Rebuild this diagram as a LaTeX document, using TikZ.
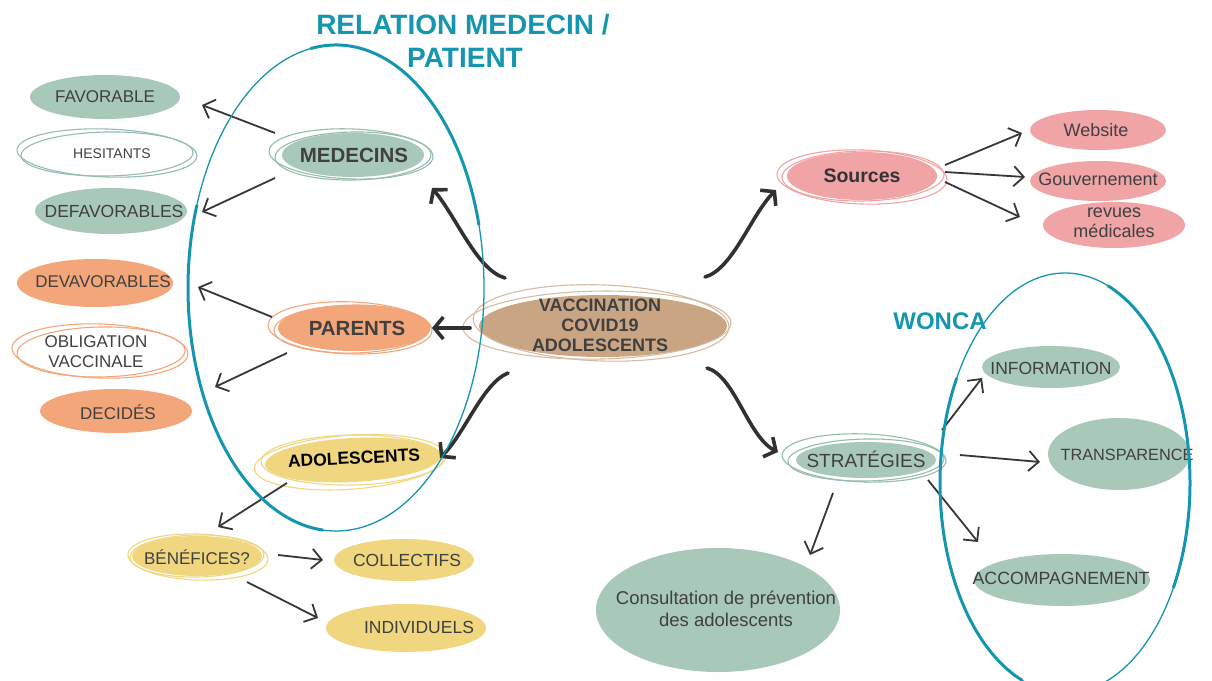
\documentclass[tikz,border=0pt]{standalone}
\usepackage{fontspec}
\setmainfont{Liberation Sans}
\usetikzlibrary{arrows.meta}
\definecolor{teal1}{RGB}{21,150,176}
\definecolor{sage}{RGB}{168,200,185}
\definecolor{sageD}{RGB}{150,188,170}
\definecolor{orng}{RGB}{243,166,122}
\definecolor{yel}{RGB}{241,214,128}
\definecolor{pink1}{RGB}{241,164,166}
\definecolor{tan1}{RGB}{201,165,131}
\definecolor{txt}{RGB}{64,64,64}
\definecolor{arrc}{RGB}{55,55,55}
\newcommand\bub[5]{\coordinate (#1) at #2;\fill[#5] (#1) ellipse [x radius=#3pt, y radius=#4pt];}
\newcommand\sk[7]{\draw[line width=1.1pt,#7,rotate around={#6:(#1)}] ([shift={(#2,#3)}]#1) ellipse [x radius=#4pt, y radius=#5pt];}
\tikzset{
  lbl/.style={text=txt, align=center, inner sep=0pt, font=\fontsize{17.5}{20}\selectfont},
  lblm/.style={lbl, font=\fontsize{18}{20}\selectfont},
  lblb/.style={lbl, font=\fontsize{20.5}{22}\bfseries\selectfont},
  ttl/.style={text=teal1, align=center, inner sep=0pt, font=\fontsize{28}{33}\bfseries\selectfont},
  thinar/.style={draw=arrc, line width=1.8pt, -{Straight Barb[length=10pt,width=20pt]}},
  thickar/.style={draw=arrc!90!black, line width=3.6pt, line cap=round, -{Straight Barb[length=9pt,width=22pt]}},
  ring/.style={draw=teal1}
}
\begin{document}
\begin{tikzpicture}[x=1pt,y=-1pt]
\fill[white] (0,0) rectangle (1212,680);
\useasboundingbox (0,0) rectangle (1212,680);

% ---------- bubbles (fills) ----------
\bub{vac}{(603,326)}{124}{31}{tan1}
\bub{med}{(353,155)}{71}{22}{sage}
\bub{fav}{(105,97)}{75}{22}{sage}
\bub{hes}{(107,153)}{88}{23}{white}
\bub{def}{(111,211)}{76}{23}{sage}
\bub{par}{(354,328)}{76}{23}{orng}
\bub{dev}{(95,283)}{78}{24}{orng}
\bub{obl}{(100,351)}{86}{26}{white}
\bub{dec}{(116,411)}{76}{22}{orng}
\coordinate (ado) at (353,460);
\fill[yel, rotate around={3:(ado)}] (ado) ellipse [x radius=88pt, y radius=22pt];
\bub{ben}{(197,556)}{65}{20}{yel}
\bub{col}{(404,560)}{70}{21}{yel}
\bub{ind}{(406,628)}{80}{24}{yel}
\bub{src}{(862,176)}{75}{24}{pink1}
\bub{web}{(1098,130)}{68}{20}{pink1}
\bub{gov}{(1098,181)}{68}{20}{pink1}
\bub{rev}{(1114,225)}{71}{23}{pink1}
\bub{str}{(866,460)}{70}{18}{sage}
\bub{inf}{(1051,367)}{69}{21}{sage}
\bub{tra}{(1119,454)}{71}{36}{sage}
\bub{acc}{(1062,580)}{88}{26}{sage}
\bub{con}{(718,610)}{122}{62}{sage}

% ---------- sketchy outlines ----------
\sk{vac}{-6}{-1}{134}{34}{1}{tan1!75!white}
\sk{vac}{-2}{-3}{128}{38}{-2}{tan1!75!white}
\sk{med}{-2}{-1}{82}{25}{-2}{sageD}
\sk{med}{0}{1}{78}{24}{1}{sageD}
\sk{par}{-4}{0}{82}{26}{-2}{orng}
\sk{par}{-2}{1}{78}{24}{1}{orng}
\sk{ado}{-3}{2}{96}{27}{4}{yel}
\sk{ado}{-1}{0}{91}{25}{1}{yel}
\sk{ben}{1}{1}{70}{23}{-2}{yel}
\sk{ben}{0}{0}{67}{21}{1}{yel}
\sk{src}{0}{1}{85}{27}{-2}{pink1}
\sk{src}{1}{0}{81}{25}{1}{pink1}
\sk{str}{-2}{-2}{82}{24}{-2}{sageD}
\sk{str}{0}{0}{78}{21}{1}{sageD}
\sk{hes}{0}{0}{90}{24}{-2}{sageD}
\sk{hes}{0}{1}{86}{22}{1}{sageD}
\sk{obl}{0}{0}{88}{27}{-2}{orng}
\sk{obl}{1}{1}{84}{25}{1}{orng}

% ---------- texts ----------
\node[ttl] (t1) at (463,25) {RELATION MEDECIN /};
\node[ttl] (t2) at (465,58) {PATIENT};
\node[ttl, font=\fontsize{24}{28}\bfseries\selectfont] (wonca) at (940,321) {WONCA};

\node[lbl, font=\fontsize{18}{20}\bfseries\selectfont] (vac-t) at (600,325) {VACCINATION\\COVID19\\ADOLESCENTS};
\node[lblb] (med-t) at (354,155) {MEDECINS};
\node[lbl, font=\fontsize{17}{20}\selectfont] (fav-t) at (105,97) {FAVORABLE};
\node[lbl, font=\fontsize{14}{16}\selectfont] (hes-t) at (112,154) {HESITANTS};
\node[lbl] (def-t) at (114,211) {DEFAVORABLES};
\node[lblb] (par-t) at (357,328) {PARENTS};
\node[lbl, font=\fontsize{17}{20}\selectfont] (dev-t) at (103,282) {DEVAVORABLES};
\node[lbl, font=\fontsize{17}{20}\selectfont] (obl-t) at (96,352) {OBLIGATION\\VACCINALE};
\node[lbl, font=\fontsize{17}{20}\selectfont] (dec-t) at (118,412) {DECIDÉS};
\node[lbl, text=black, rotate=3, font=\fontsize{17.5}{20}\bfseries\selectfont] (ado-t) at (354,458) {ADOLESCENTS};
\node[lbl, font=\fontsize{17}{19}\selectfont] (ben-t) at (197,557) {BÉNÉFICES?};
\node[lbl] (col-t) at (407,560) {COLLECTIFS};
\node[lbl] (ind-t) at (419,627) {INDIVIDUELS};
\node[lbl, text=txt!80!black, font=\fontsize{19.5}{21}\bfseries\selectfont] (src-t) at (862,176) {Sources};
\node[lblm] (web-t) at (1096,130) {Website};
\node[lblm] (gov-t) at (1098,179) {Gouvernement};
\node[lblm] (rev-t) at (1114,223) {revues\\médicales};
\node[lbl, font=\fontsize{19}{22}\selectfont] (str-t) at (866,459) {STRATÉGIES};
\node[lbl] (inf-t) at (1051,368) {INFORMATION};
\node[lbl, font=\fontsize{16.3}{18}\selectfont] (tra-t) at (1127,455) {TRANSPARENCE};
\node[lbl, font=\fontsize{17.7}{20}\selectfont] (acc-t) at (1061,578) {ACCOMPAGNEMENT};
\node[lbl, font=\fontsize{18.5}{22}\selectfont] (con-t) at (726,609) {Consultation de prévention\\des adolescents};

% ---------- thin arrows ----------
\draw[thinar] ([shift={(-78,-22)}]med) -- ([shift={(97,8)}]fav);
\draw[thinar] ([shift={(-78,23)}]med) -- ([shift={(91,1)}]def);
\draw[thinar] ([shift={(-82,-11)}]par) -- ([shift={(103,4)}]dev);
\draw[thinar] ([shift={(-67,25)}]par) -- ([shift={(115,36)}]obl);
\draw[thinar] ([shift={(-66,23)}]ado) -- ([shift={(21,-29)}]ben);
\draw[thinar] ([shift={(81,-1)}]ben) -- ([shift={(-81,0)}]col);
\draw[thinar] ([shift={(50,26)}]ben) -- ([shift={(-88,-10)}]ind);
\draw[thinar] ([shift={(83,-11)}]src) -- ([shift={(-76,3)}]web);
\draw[thinar] ([shift={(83,-4)}]src) -- ([shift={(-73,-4)}]gov);
\draw[thinar] ([shift={(83,6)}]src) -- ([shift={(-94,-8)}]rev);
\draw[thinar] ([shift={(76,-30)}]str) -- ([shift={(-69,11)}]inf);
\draw[thinar] ([shift={(94,-5)}]str) -- ([shift={(-79,8)}]tra);
\draw[thinar] ([shift={(62,20)}]str) -- ([shift={(-84,-38)}]acc);
\draw[thinar] ([shift={(-33,33)}]str) -- ([shift={(92,-55)}]con);

% ---------- thick curved arrows ----------
\draw[thickar] ([shift={(-98,-48)}]vac) .. controls +(-28,-8) and +(25,30) .. ([shift={(79,33)}]med);
\draw[thickar] ([shift={(-133,2)}]vac) -- ([shift={(78,0)}]par);
\draw[thickar] ([shift={(-95,47)}]vac) .. controls +(-25,10) and +(25,-25) .. ([shift={(87,-2)}]ado);
\draw[thickar] ([shift={(102,-49)}]vac) .. controls +(28,-8) and +(-25,25) .. ([shift={(-86,14)}]src);
\draw[thickar] ([shift={(104,42)}]vac) .. controls +(28,8) and +(-30,-15) .. ([shift={(-88,-8)}]str);

% ---------- teal group rings ----------
\coordinate (lc) at (336,288);
\coordinate (rc) at (1065,483);
\draw[ring, line width=1.3pt] (lc) ellipse [x radius=148pt, y radius=243pt];
\draw[ring, line width=3pt] ([shift={(160:148pt and 243pt)}]lc) arc [start angle=160, end angle=265, x radius=148pt, y radius=243pt];
\draw[ring, line width=3pt] ([shift={(15:148pt and 243pt)}]lc) arc [start angle=15, end angle=100, x radius=148pt, y radius=243pt];
\draw[ring, line width=1.3pt] (rc) ellipse [x radius=125pt, y radius=210pt];
\draw[ring, line width=3pt] ([shift={(150:125pt and 210pt)}]rc) arc [start angle=150, end angle=250, x radius=125pt, y radius=210pt];
\draw[ring, line width=3pt] ([shift={(-30:125pt and 210pt)}]rc) arc [start angle=-30, end angle=70, x radius=125pt, y radius=210pt];
\end{tikzpicture}
\end{document}
